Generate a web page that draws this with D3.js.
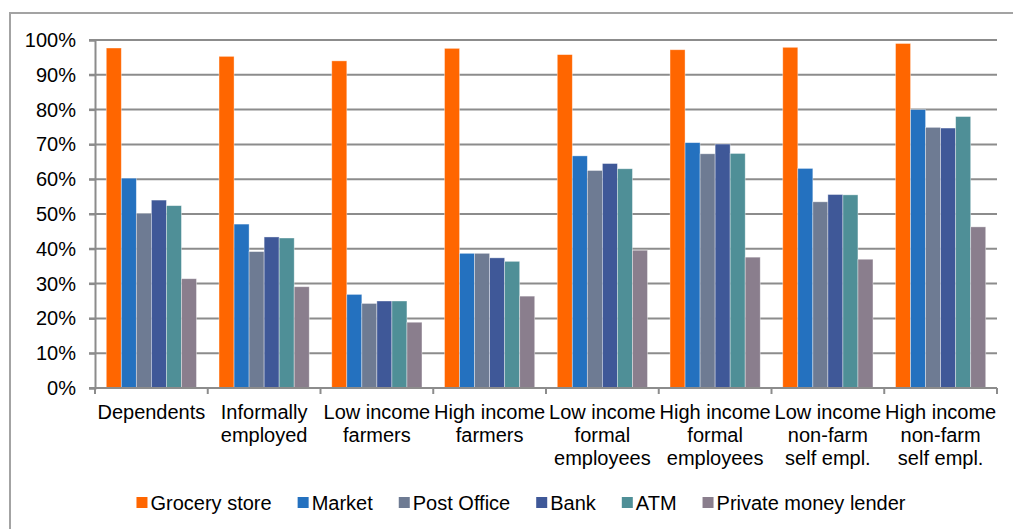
<!DOCTYPE html>
<html>
<head>
<meta charset="utf-8">
<script src="https://cdn.jsdelivr.net/npm/d3@7"></script>
<style>
  body { margin: 0; background: #fff; }
  svg { display: block; font-family: "Liberation Sans", Arial, sans-serif; }
</style>
</head>
<body>
<div id="chart"></div>
<script>
// access points by group, share of respondents
const categories = [
  ["Dependents"],
  ["Informally", "employed"],
  ["Low income", "farmers"],
  ["High income", "farmers"],
  ["Low income", "formal", "employees"],
  ["High income", "formal", "employees"],
  ["Low income", "non-farm", "self empl."],
  ["High income", "non-farm", "self empl."]
];
const seriesNames = ["Grocery store", "Market", "Post Office", "Bank", "ATM", "Private money lender"];
const colors = ["#ff6600", "#2471bf", "#6e7b93", "#3f5898", "#4f8f97", "#8a7e8d"];

const grocery = [97.7, 95.3, 94.0, 97.6, 95.8, 97.2, 97.9, 99.0];
const market  = [60.3, 47.1, 26.9, 38.7, 66.7, 70.5, 63.1, 80.0];
const postOff = [50.2, 39.2, 24.3, 38.7, 62.5, 67.3, 53.5, 74.9];
const bank    = [54.0, 43.4, 25.0, 37.4, 64.5, 70.1, 55.6, 74.7];
const atm     = [52.4, 43.1, 25.0, 36.4, 63.0, 67.4, 55.5, 78.0];
const lender  = [31.4, 29.1, 18.9, 26.4, 39.6, 37.6, 37.0, 46.3];
const yTicks = [0, 10, 20, 30, 40, 50, 60, 70, 80, 90, 100];

const series = [grocery, market, postOff, bank, atm, lender];

const width = 1013, height = 529;
const margin = {left: 95, right: 16, top: 40, bottom: 141};

const svg = d3.select("#chart").append("svg")
    .attr("width", width)
    .attr("height", height);

// outer chart border
svg.append("path")
    .attr("d", "M10,540 L10,13 L1030,13")
    .attr("fill", "none")
    .attr("stroke", "#a3a3a3")
    .attr("stroke-width", 2);

var x0 = d3.scaleBand()
    .domain(d3.range(categories.length))
    .range([margin.left, width - margin.right])
    .paddingInner(0).paddingOuter(0);

var x1 = d3.scaleBand()
    .domain(d3.range(series.length))
    .range([0, x0.bandwidth()])
    .paddingInner(0).paddingOuter(0.75);

var y = d3.scaleLinear()
    .domain([0, 100])
    .range([height - margin.bottom, margin.top]);

// gridlines
svg.append("g")
  .selectAll("line")
  .data(yTicks.filter(d => d > 0))
  .join("line")
    .attr("x1", margin.left - 6)
    .attr("x2", width - margin.right)
    .attr("y1", d => y(d))
    .attr("y2", d => y(d))
    .attr("stroke", "#8c8c8c")
    .attr("stroke-width", 2);

// y axis
var yAxis = svg.append("g")
    .attr("transform", "translate(" + margin.left + ",0)")
    .call(d3.axisLeft(y).tickValues(yTicks).tickSize(6).tickPadding(13).tickFormat(d => d + "%"));
yAxis.select(".domain").attr("stroke", "#8c8c8c").attr("stroke-width", 2);
yAxis.selectAll(".tick line").attr("stroke", "#8c8c8c").attr("stroke-width", 2);
yAxis.selectAll("text").attr("font-size", "20px").attr("fill", "#000").attr("font-family", null);

// bars
var groups = svg.append("g")
  .selectAll("g")
  .data(categories)
  .join("g")
    .attr("transform", (d, i) => "translate(" + x0(i) + ",0)");

groups.selectAll("rect")
  .data((d, i) => series.map((s, j) => ({j: j, v: s[i]})))
  .join("rect")
    .attr("x", d => x1(d.j))
    .attr("width", x1.bandwidth())
    .attr("y", d => y(d.v))
    .attr("height", d => y(0) - y(d.v))
    .attr("fill", d => colors[d.j])
    .attr("stroke", "#ffffff")
    .attr("stroke-opacity", 0.5)
    .attr("stroke-width", 0.75);

// x axis
var xAxis = svg.append("g")
    .attr("transform", "translate(0," + y(0) + ")");
xAxis.append("line")
    .attr("x1", margin.left - 6)
    .attr("x2", width - margin.right)
    .attr("stroke", "#8c8c8c")
    .attr("stroke-width", 2);
xAxis.selectAll(".xtick")
  .data(d3.range(categories.length + 1))
  .join("line")
    .attr("class", "xtick")
    .attr("x1", i => i < categories.length ? x0(i) : x0(i - 1) + x0.bandwidth())
    .attr("x2", i => i < categories.length ? x0(i) : x0(i - 1) + x0.bandwidth())
    .attr("y1", 0)
    .attr("y2", 6)
    .attr("stroke", "#8c8c8c")
    .attr("stroke-width", 2);

xAxis.selectAll(".xlabel")
  .data(categories)
  .join("text")
    .attr("class", "xlabel")
    .attr("text-anchor", "middle")
    .attr("font-size", "20px")
    .attr("fill", "#000")
    .attr("transform", (d, i) => "translate(" + (x0(i) + x0.bandwidth() / 2) + ",31)")
  .selectAll("tspan")
  .data(d => d)
  .join("tspan")
    .attr("x", 0)
    .attr("y", (d, k) => k * 23)
    .text(d => d);

// legend
var legend = svg.append("g");
var items = legend.selectAll("g")
  .data(seriesNames)
  .join("g");
items.append("rect")
    .attr("y", -6)
    .attr("width", 11)
    .attr("height", 11)
    .attr("fill", (d, i) => colors[i]);
items.append("text")
    .attr("x", 14)
    .attr("dy", "0.35em")
    .attr("font-size", "20px")
    .attr("fill", "#000")
    .text(d => d);

var pos = 0;
items.each(function() {
  var w = d3.select(this).select("text").node().getComputedTextLength();
  d3.select(this).attr("transform", "translate(" + pos + ",0)");
  pos += 14 + w + 26;
});
var total = pos - 26;
legend.attr("transform", "translate(" + (521 - total / 2) + ",503)");
</script>
</body>
</html>
